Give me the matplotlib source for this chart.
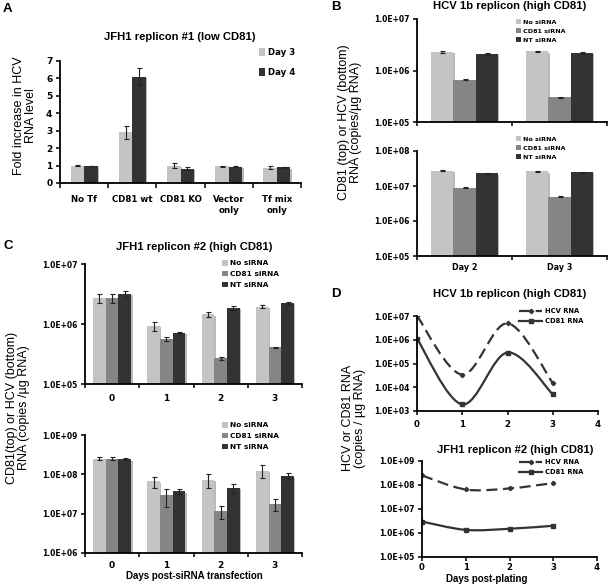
import numpy as np
import matplotlib
matplotlib.use('Agg')
import matplotlib.pyplot as plt
from matplotlib.path import Path
from matplotlib.patches import PathPatch, Patch
from matplotlib.lines import Line2D
import matplotlib.patheffects as pe

# ---- data ----
# A: JFH1 replicon #1 (low CD81), fold increase
a_groups = ['No Tf', 'CD81 wt', 'CD81 KO', 'Vector\nonly', 'Tf mix\nonly']
a_day3 = [1.0, 2.9, 1.0, 0.97, 0.88]
a_day3_err = [0.02, 0.35, 0.15, 0.03, 0.1]
a_day4 = [0.98, 6.1, 0.82, 0.93, 0.9]
a_day4_err = [0.02, 0.5, 0.1, 0.03, 0.04]
a_yticks = [0, 1, 2, 3, 4, 5, 6, 7]

# B: HCV 1b replicon (high CD81)
b_days = ['Day 2', 'Day 3']
si_names = ['No siRNA', 'CD81 siRNA', 'NT siRNA']
b_top = [[2.3e6, 2.35e6], [6.6e5, 3.0e5], [2.1e6, 2.2e6]]
b_bot = [[2.7e7, 2.6e7], [9.0e6, 5.0e6], [2.3e7, 2.5e7]]
b_top_ticks = [1e5, 1e6, 1e7]
b_top_labels = ['1.0E+05', '1.0E+06', '1.0E+07']
b_bot_ticks = [1e5, 1e6, 1e7, 1e8]
b_bot_labels = ['1.0E+05', '1.0E+06', '1.0E+07', '1.0E+08']

# C: JFH1 replicon #2 (high CD81)
c_days = ['0', '1', '2', '3']
c_top = [[2.7e6, 9.3e5, 1.45e6, 1.95e6],
         [2.7e6, 5.6e5, 2.7e5, 4.1e5],
         [3.2e6, 7.2e5, 1.85e6, 2.25e6]]
c_top_err = [[5e5, 1.7e5, 1.5e5, 1.2e5],
             [5e5, 4e4, 1.5e4, 1e4],
             [4e5, 2e4, 1.2e5, 1e5]]
c_bot = [[2.5e8, 6.6e7, 7.2e7, 1.25e8],
         [2.5e8, 2.9e7, 1.15e7, 1.75e7],
         [2.4e8, 3.7e7, 4.5e7, 9.0e7]]
c_bot_err = [[2e7, 2e7, 2.8e7, 4.5e7],
             [2e7, 1.4e7, 4e6, 6e6],
             [1.5e7, 6e6, 1.1e7, 1.5e7]]
c_top_ticks = [1e5, 1e6, 1e7]
c_top_labels = ['1.0E+05', '1.0E+06', '1.0E+07']
c_bot_ticks = [1e6, 1e7, 1e8, 1e9]
c_bot_labels = ['1.0E+06', '1.0E+07', '1.0E+08', '1.0E+09']

# D: RNA vs days post-plating
d_days = [0, 1, 2, 3]
d_top_hcv = [1.0e7, 3.4e4, 4.9e6, 1.5e4]
d_top_cd81 = [1.1e6, 1.9e3, 2.9e5, 5.0e3]
d_bot_hcv = [2.5e8, 6.5e7, 7.2e7, 1.2e8]
d_bot_cd81 = [3.0e6, 1.35e6, 1.5e6, 2.0e6]
d_xticks = [0, 1, 2, 3, 4]
d_top_ticks = [1e3, 1e4, 1e5, 1e6, 1e7]
d_top_labels = ['1.0E+03', '1.0E+04', '1.0E+05', '1.0E+06', '1.0E+07']
d_bot_ticks = [1e5, 1e6, 1e7, 1e8, 1e9]
d_bot_labels = ['1.0E+05', '1.0E+06', '1.0E+07', '1.0E+08', '1.0E+09']

# ---- style ----
W, H = 608, 586
LIGHT, MID, DARK = '#c4c4c4', '#858585', '#333333'
si_colors = [LIGHT, MID, DARK]
ARIAL = 'Liberation Sans'
TICKF = 'DejaVu Sans'
shadow = [pe.SimplePatchShadow(offset=(1.0, -1.0), shadow_rgbFace='0.55', alpha=0.6), pe.Normal()]

fig = plt.figure(figsize=(W / 100, H / 100), dpi=100)


def rect(x0, y0, x1, y1):
    return [x0 / W, 1 - y1 / H, (x1 - x0) / W, (y1 - y0) / H]


def ftext(x, y, s, **kw):
    fig.text(x / W, 1 - y / H, s, **kw)


def style(ax, tick_fs=5.5):
    for s in ['top', 'right']:
        ax.spines[s].set_visible(False)
    for s in ['left', 'bottom']:
        ax.spines[s].set_linewidth(1.3)
    ax.tick_params(which='major', direction='out', length=3, width=1.1, labelsize=tick_fs)
    ax.tick_params(axis='y', pad=2.5)
    for lab in ax.get_yticklabels() + ax.get_xticklabels():
        lab.set_fontfamily(TICKF)
        lab.set_fontweight('bold')


def cat_axis(ax, names, fs, pad):
    n = len(names)
    ax.set_xlim(0, n)
    ax.set_xticks(range(n + 1))
    ax.set_xticklabels([])
    ax.set_xticks(np.arange(n) + 0.5, minor=True)
    ax.set_xticklabels(names, minor=True, fontsize=fs, fontweight='bold', family=TICKF)
    ax.tick_params(axis='x', which='minor', length=0, pad=pad)


def grouped(ax, series, errs, bottom, width):
    n = len(series)
    x = np.arange(len(series[0])) + 0.5
    for i, vals in enumerate(series):
        xi = x + (i - (n - 1) / 2) * width
        vals = np.array(vals)
        ax.bar(xi, vals - bottom, width=width, bottom=bottom, color=si_colors[i] if n == 3 else [LIGHT, DARK][i],
               path_effects=shadow, zorder=2)
        if errs is not None:
            ax.errorbar(xi, vals, yerr=errs[i], fmt='none', ecolor='#222222', elinewidth=0.8,
                        capsize=1.8, capthick=0.8, zorder=3)


def log_axis(ax, ticks, labels, fs=5.5):
    ax.set_yscale('log')
    ax.set_ylim(ticks[0], ticks[-1])
    ax.set_yticks(ticks)
    ax.set_yticklabels(labels)
    ax.yaxis.set_minor_locator(matplotlib.ticker.NullLocator())


def legend(handles, labels, x, y, fs, spacing, hl=0.8, hh=0.8):
    fig.legend(handles, labels, loc='upper left', bbox_to_anchor=(x / W, 1 - y / H),
               frameon=False, borderpad=0, borderaxespad=0, handlelength=hl, handleheight=hh,
               handletextpad=0.35, labelspacing=spacing,
               prop={'family': TICKF, 'weight': 'bold', 'size': fs})


def smooth_path(xs, ys):
    # Catmull-Rom style smoothing in (x, log10 y) space
    px = np.array(xs, dtype=float)
    py = np.log10(np.array(ys, dtype=float))
    n = len(px)
    verts = [(px[0], 10 ** py[0])]
    codes = [Path.MOVETO]
    for i in range(n - 1):
        i0 = max(i - 1, 0)
        i3 = min(i + 2, n - 1)
        c1 = (px[i] + (px[i + 1] - px[i0]) / 6, py[i] + (py[i + 1] - py[i0]) / 6)
        c2 = (px[i + 1] - (px[i3] - px[i]) / 6, py[i + 1] - (py[i3] - py[i]) / 6)
        verts += [(c1[0], 10 ** c1[1]), (c2[0], 10 ** c2[1]), (px[i + 1], 10 ** py[i + 1])]
        codes += [Path.CURVE4] * 3
    return Path(verts, codes)


sq_handles = [Patch(facecolor=c, edgecolor='none') for c in si_colors]
TITLE = dict(fontsize=8.1, fontweight='bold', family=ARIAL, ha='center', va='center')
YLAB = dict(fontsize=9, family=ARIAL, rotation=90, ha='center', va='center',
            multialignment='center', linespacing=1.0)
XLAB = dict(fontsize=7.0, fontweight='bold', family=ARIAL, ha='center', va='center')
LETTER = dict(fontsize=9.5, fontweight='bold', family=ARIAL, va='center')

# ---- panel A ----
axA = fig.add_axes(rect(60, 61, 301, 183))
grouped(axA, [a_day3, a_day4], [a_day3_err, a_day4_err], 0, 0.28)
axA.set_ylim(0, 7)
axA.set_yticks(a_yticks)
cat_axis(axA, a_groups, 6.2, 9)
style(axA, 6.5)
axA.tick_params(axis='x', which='major', length=3.5)
legend([Patch(facecolor=LIGHT), Patch(facecolor=DARK)], ['Day 3', 'Day 4'], 259, 48, 6.2, 1.25, 0.7, 1.0)
ftext(3, 9, 'A', **LETTER)
ftext(180, 37, 'JFH1 replicon #1 (low CD81)', **TITLE)
ftext(25, 116, 'Fold increase in HCV\nRNA level', **dict(YLAB, linespacing=1.05))

# ---- panel B ----
axB1 = fig.add_axes(rect(417, 19, 607, 122))
grouped(axB1, b_top, [[v * 0.03 for v in s] for s in b_top], 1e5, 0.235)
log_axis(axB1, b_top_ticks, b_top_labels)
cat_axis(axB1, b_days, 5.5, 5)
style(axB1)
axB2 = fig.add_axes(rect(417, 151, 607, 256))
grouped(axB2, b_bot, [[v * 0.03 for v in s] for s in b_bot], 1e5, 0.235)
log_axis(axB2, b_bot_ticks, b_bot_labels)
cat_axis(axB2, b_days, 5.8, 5)
axB1.set_xticklabels([], minor=True)
style(axB2)
legend(sq_handles, si_names, 516, 19, 4.6, 0.55)
legend(sq_handles, si_names, 516, 136, 4.6, 0.55)
ftext(331, 7, 'B', **LETTER)
ftext(510, 6, 'HCV 1b replicon (high CD81)', **TITLE)
ftext(350, 122, 'CD81 (top) or HCV (bottom)\nRNA (copies/µg RNA)', **YLAB)

# ---- panel C ----
axC1 = fig.add_axes(rect(85, 264, 302, 384))
grouped(axC1, c_top, c_top_err, 1e5, 0.235)
log_axis(axC1, c_top_ticks, c_top_labels)
cat_axis(axC1, c_days, 6.5, 7)
style(axC1)
axC2 = fig.add_axes(rect(85, 435, 302, 553))
grouped(axC2, c_bot, c_bot_err, 1e6, 0.235)
log_axis(axC2, c_bot_ticks, c_bot_labels)
cat_axis(axC2, c_days, 6.5, 6)
style(axC2)
legend(sq_handles, si_names, 222, 260, 5.3, 0.6)
legend(sq_handles, si_names, 222, 422, 5.3, 0.6)
ftext(3, 246, 'C', **LETTER)
ftext(194, 247, 'JFH1 replicon #2 (high CD81)', **TITLE)
ftext(18, 408, 'CD81(top) or HCV (bottom)\nRNA (copies /µg RNA)', **YLAB)
ftext(194, 576, 'Days post-siRNA transfection', **XLAB)

# ---- panel D ----
dash = (0, (5, 2.5))
line_kw = dict(color=DARK, lw=1.6)


def d_panel(ax, hcv, cd81, ticks, labels):
    ax.add_patch(PathPatch(smooth_path(d_days, hcv), fill=False, ls=dash, **line_kw))
    ax.add_patch(PathPatch(smooth_path(d_days, cd81), fill=False, ls='-', **line_kw))
    ax.plot(d_days, hcv, ls='none', marker='D', ms=2.2, color=DARK)
    ax.plot(d_days, cd81, ls='none', marker='s', ms=2.6, color=DARK)
    log_axis(ax, ticks, labels)
    ax.set_xlim(0, 4)
    ax.set_xticks(d_xticks)
    ax.set_xticklabels([str(v) for v in d_xticks])
    style(ax, 5.5)
    ax.tick_params(axis='x', labelsize=6.2)


axD1 = fig.add_axes(rect(417, 316, 598, 411))
d_panel(axD1, d_top_hcv, d_top_cd81, d_top_ticks, d_top_labels)
axD1.tick_params(axis='x', pad=3.5)
axD2 = fig.add_axes(rect(422, 461, 597, 557))
d_panel(axD2, d_bot_hcv, d_bot_cd81, d_bot_ticks, d_bot_labels)
axD2.tick_params(axis='x', pad=1.5)
d_handles = [Line2D([], [], ls=dash, marker='D', ms=2.2, **line_kw),
             Line2D([], [], ls='-', marker='s', ms=2.6, **line_kw)]
legend(d_handles, ['HCV RNA', 'CD81 RNA'], 519, 308, 4.9, 0.6, hl=3.4, hh=0.7)
legend(d_handles, ['HCV RNA', 'CD81 RNA'], 519, 459, 4.9, 0.6, hl=3.4, hh=0.7)
ftext(331, 294, 'D', **LETTER)
ftext(510, 294, 'HCV 1b replicon (high CD81)', **TITLE)
ftext(515, 450, 'JFH1 replicon #2 (high CD81)', **TITLE)
ftext(354, 418, 'HCV or CD81 RNA\n(copies / µg RNA)', **YLAB)
ftext(487, 579, 'Days post-plating', **XLAB)

fig.savefig('out.png', dpi=100)
